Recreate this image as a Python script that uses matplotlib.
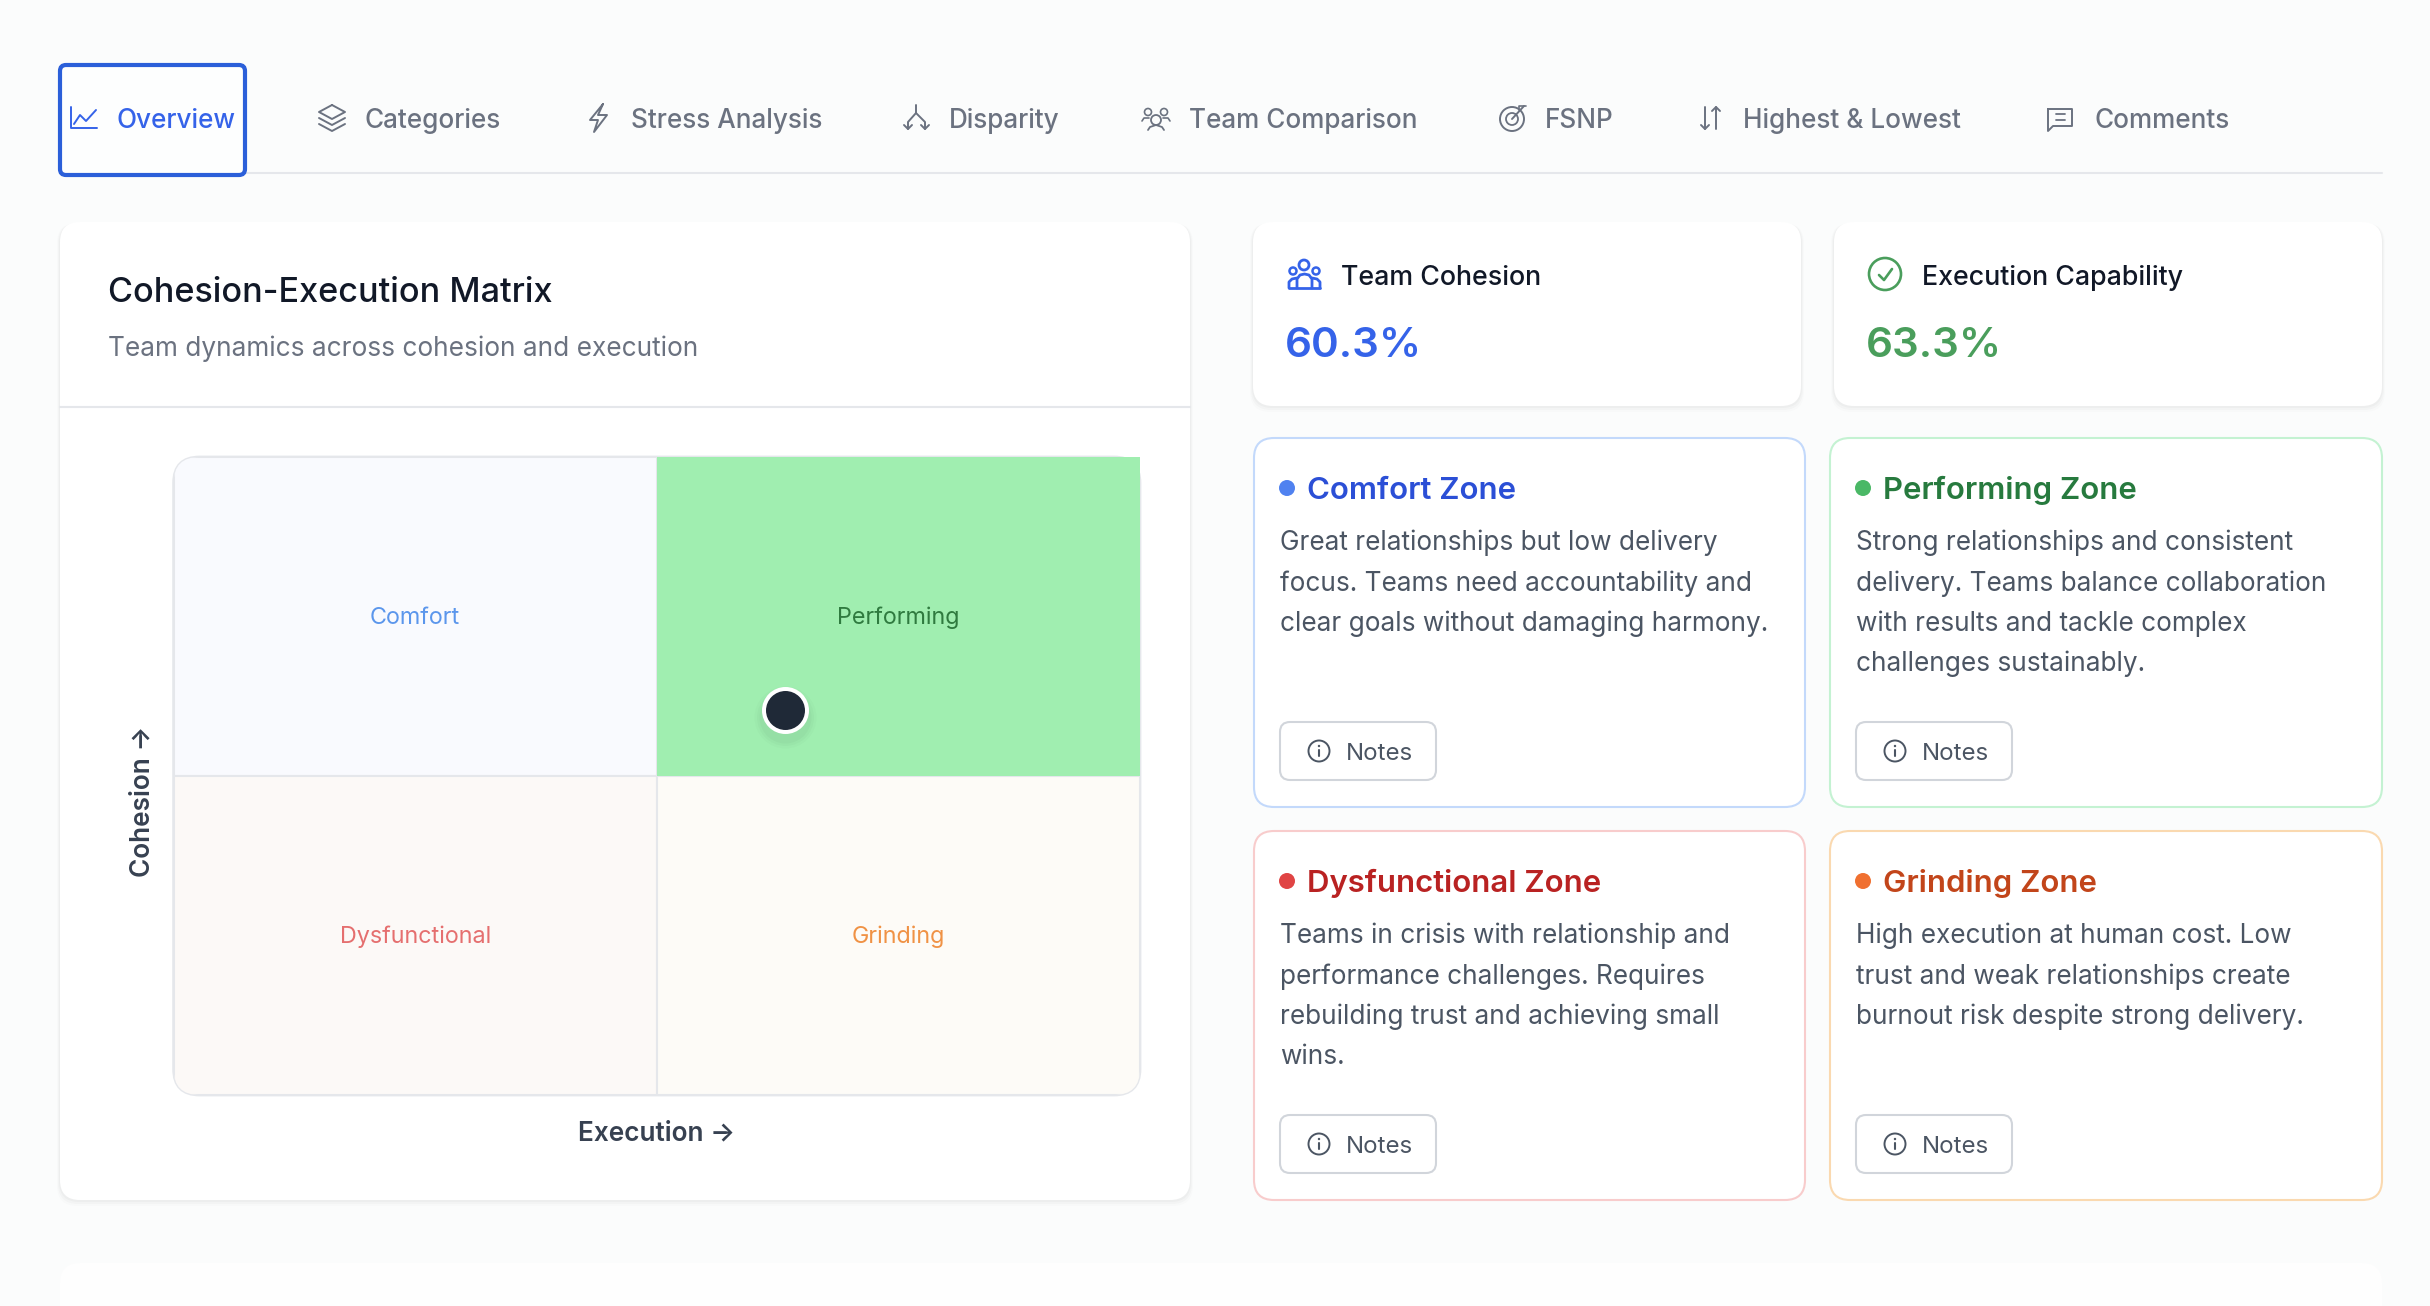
import matplotlib
matplotlib.use("Agg")
import matplotlib.pyplot as plt
from matplotlib.patches import FancyBboxPatch, Circle
from matplotlib.textpath import TextPath
from matplotlib.font_manager import FontProperties

plt.rcParams['font.family'] = ['Inter', 'DejaVu Sans']

W, H = 2430, 1306
FONT = 'Inter'

# data
tab_labels = ["Overview", "Categories", "Stress Analysis", "Disparity",
              "Team Comparison", "FSNP", "Highest & Lowest", "Comments"]
execution_score = 63.3
cohesion_score = 60.3
quadrant_names = ["Comfort", "Performing", "Dysfunctional", "Grinding"]
quadrant_left = [0, 50, 0, 50]
quadrant_bottom = [50, 50, 0, 0]
quadrant_size = [50, 50, 50, 50]
quadrant_fill = ["#f9fafe", "#a0eeb0", "#fcf9f7", "#fdfbf7"]
quadrant_text = ["#5b96ec", "#2f7a3f", "#e56f6f", "#f09245"]
zone_titles = ["Comfort Zone", "Performing Zone", "Dysfunctional Zone", "Grinding Zone"]
zone_body = [
    ["Great relationships but low delivery", "focus. Teams need accountability and",
     "clear goals without damaging harmony."],
    ["Strong relationships and consistent", "delivery. Teams balance collaboration",
     "with results and tackle complex", "challenges sustainably."],
    ["Teams in crisis with relationship and", "performance challenges. Requires",
     "rebuilding trust and achieving small", "wins."],
    ["High execution at human cost. Low", "trust and weak relationships create",
     "burnout risk despite strong delivery."],
]
zone_title_col = ["#2b4fd6", "#277a3e", "#b92222", "#c2451a"]
zone_dot_col = ["#5082f0", "#4ab866", "#e04444", "#f07030"]
zone_border = ["#c3d9fb", "#c4f2d2", "#f8cccc", "#fad9b0"]


def size_for(text, width_px, weight='normal'):
    # font size in points that makes text come out width_px wide
    fp = FontProperties(family=FONT, weight=weight)
    w = TextPath((0, 0), text, size=100, prop=fp).get_extents().width
    return 100 * width_px / w * 0.72


fig = plt.figure(figsize=(W / 100, H / 100), dpi=100, facecolor="#fbfcfc")
bg = fig.add_axes([0, 0, 1, 1], zorder=0)
bg.set_xlim(0, W)
bg.set_ylim(H, 0)
bg.axis('off')


def rbox(x0, y0, x1, y1, r, fc="white", ec="none", lw=0, z=1, ax=None):
    p = FancyBboxPatch((x0 + r, y0 + r), x1 - x0 - 2 * r, y1 - y0 - 2 * r,
                       boxstyle=f"round,pad={r},rounding_size={r}",
                       fc=fc, ec=ec, lw=lw, zorder=z, transform=bg.transData)
    (ax or bg).add_patch(p)
    return p


def card(x0, y0, x1, y1, r=20):
    # soft shadow under the card
    for d, a in [(6, 0.012), (4, 0.018), (2, 0.025)]:
        rbox(x0 - d / 2, y0 + 1, x1 + d / 2, y1 + d, r, fc=(0, 0, 0, a), z=0.5)
    rbox(x0, y0, x1, y1, r)


def line(xs, ys, c, lw=1.5, z=3):
    bg.plot(xs, ys, color=c, lw=lw, zorder=z, solid_capstyle='round', solid_joinstyle='round')


def ring(x, y, r, c, lw=1.5, fc="none", z=3):
    bg.add_patch(Circle((x, y), r, fc=fc, ec=c, lw=lw, zorder=z))


def label(x, y, s, size, c, weight='normal'):
    # y is the visual middle of the text, baseline sits about 0.36em under it
    bg.text(x, y + size * 0.5 + 1, s, fontsize=size, color=c, weight=weight, ha='left', va='baseline', zorder=4)


# tabs
GREY = "#6b7280"
BLUE = "#3563e9"
line([60, 2382], [173, 173], "#e5e7eb", lw=1.5, z=1)
rbox(60, 65, 245, 175, 6, fc="#fdfefe", ec="#2b5fd9", lw=3, z=2)
tab_x = [116, 364, 631, 949, 1189, 1545, 1743, 2094]
tab_size = size_for("Stress Analysis", 189, 'medium')
for i, (x, s) in enumerate(zip(tab_x, tab_labels)):
    label(x, 118, s, tab_size, BLUE if i == 0 else GREY, 'medium')

# tab icons
IC = "#6b7280"
line([71, 71, 97], [107, 128, 128], BLUE, 1.4)
line([74, 80, 86, 96], [124, 115, 121, 110], BLUE, 1.4)
line([332, 345, 332, 319, 332], [105, 112, 119, 112, 105], IC, 1.4)
line([319, 332, 345], [118, 125, 118], IC, 1.4)
line([319, 332, 345], [124, 131, 124], IC, 1.4)
line([603, 590, 598, 594, 607, 598, 603], [104, 120, 120, 132, 115, 115, 104], IC, 1.4)
line([916, 916], [105, 113], IC, 1.4)
line([908, 908, 916, 925, 925], [129, 122, 113, 122, 129], IC, 1.4)
line([904, 908, 912], [125, 129, 125], IC, 1.4)
line([921, 925, 929], [125, 129, 125], IC, 1.4)
ring(1156, 120, 5, IC, 1.3)
line([1148, 1150, 1156, 1162, 1164], [130, 127, 125, 127, 130], IC, 1.3)
ring(1148, 112, 3.5, IC, 1.2)
ring(1164, 112, 3.5, IC, 1.2)
line([1142, 1144, 1149], [121, 118, 118], IC, 1.2)
line([1170, 1168, 1163], [121, 118, 118], IC, 1.2)
ring(1512, 119, 12, IC, 1.4)
ring(1512, 119, 6, IC, 1.3)
line([1512, 1524], [119, 106], IC, 1.4)
line([1519, 1519, 1526], [110, 106, 106], IC, 1.2)
line([1705, 1705], [107, 129], IC, 1.4)
line([1701, 1705, 1709], [125, 129, 125], IC, 1.4)
line([1716, 1716], [107, 129], IC, 1.4)
line([1712, 1716, 1720], [111, 107, 111], IC, 1.4)
line([2048, 2072, 2072, 2053, 2048, 2048], [109, 109, 126, 126, 131, 109], IC, 1.4)
line([2056, 2065], [114, 114], IC, 1.3)
line([2056, 2065], [120, 120], IC, 1.3)

# matrix card
card(60, 222, 1190, 1200)
line([60, 1190], [407, 407], "#e5e7eb", lw=1.5, z=2)
label(108, 289, "Cohesion-Execution Matrix", size_for("Cohesion-Execution Matrix", 441, 'medium'), "#111827", 'medium')
label(108, 346, "Team dynamics across cohesion and execution",
      size_for("Team dynamics across cohesion and execution", 586), GREY)

# matrix
mx0, mx1, my0, my1 = 173.6, 1140, 457, 1095
ax = fig.add_axes([mx0 / W, 1 - my1 / H, (mx1 - mx0) / W, (my1 - my0) / H], zorder=1)
ax.patch.set_alpha(0)
ax.set_xlim(0, 100)
ax.set_ylim(0, 100)
for sp in ax.spines.values():
    sp.set_visible(False)
ax.set_xticks([])
ax.set_yticks([])
border = rbox(mx0, my0, mx1, my1, 26, fc="none", ec="#e5e7eb", lw=2, z=0.5, ax=ax)
border.set_clip_on(False)
bars = ax.bar(quadrant_left, quadrant_size, width=quadrant_size, bottom=quadrant_bottom,
              align='edge', color=quadrant_fill, edgecolor="#e5e7eb", linewidth=1.5, zorder=1)
clip = rbox(mx0, my0, mx1, my1, 26, fc="none", ax=ax)
for i, b in enumerate(bars):
    if quadrant_names[i] == "Performing":
        # the active cell keeps square corners and has no edge
        b.set_edgecolor("none")
        b.set_zorder(2)
    else:
        b.set_clip_path(clip)
q_size = size_for("Dysfunctional", 148)
for name, col, l, b, s in zip(quadrant_names, quadrant_text, quadrant_left, quadrant_bottom, quadrant_size):
    ax.text(l + s / 2, b + s / 2 - 1.2, name, color=col, fontsize=q_size, ha='center', va='baseline', zorder=3)
for d, a in [(62, 0.015), (57, 0.02), (52, 0.025)]:
    ax.scatter([execution_score], [cohesion_score - 1.0], s=(d * 0.72) ** 2, color='black',
               alpha=a, linewidths=0, zorder=4)
ax.scatter([execution_score], [cohesion_score], s=(43 * 0.72) ** 2, color="#1f2937",
           edgecolors="white", linewidths=4 * 0.72, zorder=5)
ax_size = size_for("Execution", 122, 'semibold')
ax.set_xlabel("Execution →", fontsize=ax_size, color="#374151", weight='semibold', labelpad=0)
ax.xaxis.set_label_coords(0.5, -0.0605, transform=ax.transAxes)
ax.xaxis.label.set_va('center')
ax.set_ylabel("Cohesion →", fontsize=ax_size, color="#374151", weight='semibold')
ax.yaxis.set_label_coords(-0.0325, 0.46, transform=ax.transAxes)
ax.yaxis.label.set_va('center')

# stat cards
card(1253, 222, 1801, 406)
card(1834, 222, 2382, 406)
GREEN = "#4a9e5c"
stat_size = size_for("Execution Capability", 259, 'medium')
label(1341, 274, "Team Cohesion", stat_size, "#111827", 'medium')
label(1922, 274, "Execution Capability", stat_size, "#111827", 'medium')
val_size = size_for("60.3%", 131, 'semibold')
label(1285, 341, "60.3%", val_size, BLUE, 'semibold')
label(1866, 341, "63.3%", val_size, GREEN, 'semibold')
# people icon
ring(1304, 265, 5, BLUE, 2.0)
ring(1293, 271, 3.5, BLUE, 1.8)
ring(1316, 271, 3.5, BLUE, 1.8)
line([1289, 1289, 1292, 1297], [288, 282, 279, 278], BLUE, 2.0)
line([1320, 1320, 1317, 1312], [288, 282, 279, 278], BLUE, 2.0)
line([1297, 1297, 1300, 1304.5, 1309, 1312, 1312], [288, 279, 275, 274, 275, 279, 288], BLUE, 2.0)
line([1289, 1320], [288, 288], BLUE, 2.0)
# check icon
ring(1885, 274, 16, GREEN, 1.9)
line([1879, 1884, 1892], [275, 280, 269], GREEN, 1.9)

# zone cards
zone_x = [(1254, 1805), (1830, 2382), (1254, 1805), (1830, 2382)]
zone_y = [(438, 807), (438, 807), (831, 1200), (831, 1200)]
title_size = size_for("Comfort Zone", 206, 'semibold')
body_size = size_for("focus. Teams need accountability and", 469)
note_size = size_for("Notes", 64)
for i in range(4):
    x0, x1 = zone_x[i]
    y0, y1 = zone_y[i]
    rbox(x0, y0, x1, y1, 20, ec=zone_border[i], lw=1.5)
    bg.add_patch(Circle((x0 + 33, y0 + 50), 8, fc=zone_dot_col[i], ec="none", zorder=3))
    label(x0 + 53, y0 + 49, zone_titles[i], title_size, zone_title_col[i], 'semibold')
    for j, s in enumerate(zone_body[i]):
        label(x0 + 26, y0 + 102 + j * 40.3, s, body_size, "#4b5563")
    rbox(x0 + 26, y0 + 284, x0 + 182, y0 + 342, 10, ec="#d1d5db", lw=1.5, z=2)
    cy = y0 + 313
    ring(x0 + 65, cy, 10.5, "#4b5563", 1.4)
    line([x0 + 65, x0 + 65], [cy - 1, cy + 5], "#4b5563", 1.5)
    bg.add_patch(Circle((x0 + 65, cy - 5), 1.2, fc="#4b5563", ec="none", zorder=3))
    label(x0 + 92, cy - 1, "Notes", note_size, "#4b5563")

# next card, cut off at the bottom
rbox(60, 1263, 2382, 1400, 20, fc="#fefefe")

fig.savefig("out.png", dpi=100, facecolor=fig.get_facecolor())
